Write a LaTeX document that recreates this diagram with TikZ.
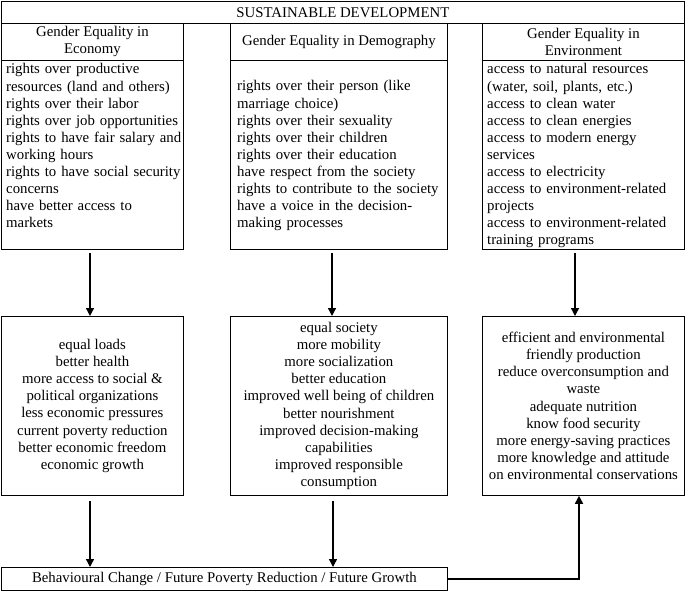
\documentclass[tikz,border=0pt]{standalone}
\usepackage{fontspec}
\setmainfont{Liberation Serif}
\usetikzlibrary{arrows.meta}
\newcommand\fz{\fontsize{14.8pt}{17.1pt}\selectfont}
\begin{document}
\begin{tikzpicture}[x=1pt,y=-1pt,
  box/.style={draw, line width=0.8pt, inner sep=0pt, anchor=north west, align=center, font=\fz},
  txt/.style={inner sep=0pt, anchor=base west, align=left, text width=240pt, font=\fz},
  arr/.style={line width=1.4pt, -{Triangle[length=8pt,width=8pt]}}]
\useasboundingbox (0,0) rectangle (685,591);
\node[box, minimum width=683pt, minimum height=22pt] (sd) at (1,1) {SUSTAINABLE DEVELOPMENT};
% headers
\node[box, minimum width=182pt, minimum height=37pt] (eh) at (1,23) {Gender Equality in\\Economy};
\node[box, minimum width=217pt, minimum height=37pt] (dh) at (230,23) {Gender Equality in Demography};
\node[box, minimum width=202pt, minimum height=37pt] (nh) at (482,23) {Gender Equality in\\Environment};
% content boxes
\node[box, minimum width=182pt, minimum height=189pt] (ec) at (1,60) {};
\node[box, minimum width=217pt, minimum height=189pt] (dc) at (230,60) {};
\node[box, minimum width=202pt, minimum height=189pt] (nc) at (482,60) {};
\node[txt] (ect) at (6,74) {rights over productive\\resources (land and others)\\rights over their labor\\rights over job opportunities\\rights to have fair salary and\\working hours\\rights to have social security\\concerns\\have better access to\\markets};
\node[txt] (dct) at (237,91) {rights over their person (like\\marriage choice)\\rights over their sexuality\\rights over their children\\rights over their education\\have respect from the society\\rights to contribute to the society\\have a voice in the decision-\\making processes};
\node[txt] (nct) at (487,74) {access to natural resources\\(water, soil, plants, etc.)\\access to clean water\\access to clean energies\\access to modern energy\\services\\access to electricity\\access to environment-related\\projects\\access to environment-related\\training programs};
% outcome boxes
\node[box, minimum width=182pt, minimum height=179pt] (eo) at (1,316) {equal loads\\better health\\more access to social \&\\political organizations\\less economic pressures\\current poverty reduction\\better economic freedom\\economic growth};
\node[box, minimum width=217pt, minimum height=179pt] (do) at (230,316) {equal society\\more mobility\\more socialization\\better education\\improved well being of children\\better nourishment\\improved decision-making\\capabilities\\improved responsible\\consumption};
\node[box, minimum width=202pt, minimum height=179pt] (no) at (482,316) {efficient and environmental\\friendly production\\reduce overconsumption and\\waste\\adequate nutrition\\know food security\\more energy-saving practices\\more knowledge and attitude\\on environmental conservations};
% bottom
\node[box, minimum width=446pt, minimum height=23pt] (bot) at (1,567) {Behavioural Change / Future Poverty Reduction / Future Growth};
% arrows
\draw[arr, shorten <=3pt] (ec.south -| 90,0) -- (eo.north -| 90,0);
\draw[arr, shorten <=3pt] (dc.south -| 332,0) -- (do.north -| 332,0);
\draw[arr, shorten <=3pt] (nc.south -| 575,0) -- (no.north -| 575,0);
\draw[arr, shorten <=5pt] (eo.south -| 90,0) -- (bot.north -| 90,0);
\draw[arr, shorten <=5pt] (do.south -| 333,0) -- (bot.north -| 333,0);
\draw[arr] (bot.east) -| (no.south -| 579,0);
\end{tikzpicture}
\end{document}
